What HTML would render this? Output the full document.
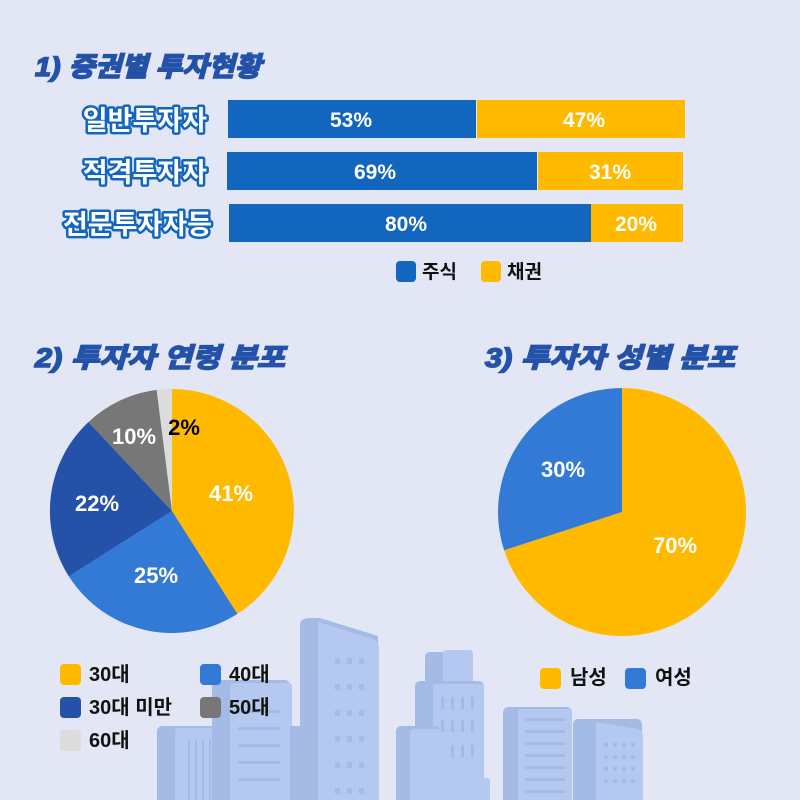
<!DOCTYPE html>
<html><head><meta charset="utf-8"><style>
html,body{margin:0;padding:0;background:#E3E7F5;}
svg{display:block}
text{font-family:"Liberation Sans","Noto Sans CJK KR",sans-serif;font-weight:bold}
</style></head><body>
<svg width="800" height="800" viewBox="0 0 800 800" xmlns="http://www.w3.org/2000/svg">
<rect width="800" height="800" fill="#E3E7F5"/>
<g>
<rect x="157" y="726" width="62" height="80" rx="5" fill="#A3BBE5"/>
<rect x="175" y="728" width="46" height="80" rx="3" fill="#B5C9F0"/>
<rect x="212" y="680" width="78" height="130" rx="5" fill="#A3BBE5"/>
<rect x="230" y="683" width="62" height="130" rx="3" fill="#B5C9F0"/>
<path d="M300 625 Q300 618 310 618 L320 618 L378 636 L378 800 L300 800Z" fill="#A3BBE5"/>
<path d="M318 622 L375 640 Q379 642 379 648 L379 800 L318 800Z" fill="#B5C9F0"/>
<rect x="290" y="726" width="14" height="80" fill="#A3BBE5"/>
<rect x="425" y="652" width="48" height="40" rx="5" fill="#A3BBE5"/>
<rect x="443" y="650" width="30" height="40" rx="3" fill="#B5C9F0"/>
<rect x="415" y="681" width="69" height="120" rx="5" fill="#A3BBE5"/>
<rect x="433" y="684" width="51" height="120" rx="3" fill="#B5C9F0"/>
<rect x="396" y="726" width="44" height="80" rx="5" fill="#A3BBE5"/>
<rect x="410" y="729" width="30" height="80" rx="3" fill="#B5C9F0"/>
<rect x="440" y="778" width="50" height="30" rx="3" fill="#B5C9F0"/>
<rect x="503" y="707" width="69" height="100" rx="5" fill="#A3BBE5"/>
<rect x="518" y="709" width="54" height="100" rx="3" fill="#B5C9F0"/>
<rect x="573" y="719" width="69" height="90" rx="5" fill="#A3BBE5"/>
<path d="M596 722 L638 729 Q643 731 643 736 L643 800 L596 800Z" fill="#B5C9F0"/>
<g fill="#A3BBE5">
<rect x="188" y="740" width="2" height="60"/><rect x="195" y="740" width="2" height="60"/><rect x="202" y="740" width="2" height="60"/><rect x="209" y="740" width="2" height="60"/>
<rect x="238" y="710" width="42" height="3"/><rect x="238" y="727" width="42" height="3"/><rect x="238" y="744" width="42" height="3"/><rect x="238" y="761" width="42" height="3"/><rect x="238" y="778" width="42" height="3"/>
<rect x="525" y="718" width="40" height="3"/><rect x="525" y="730" width="40" height="3"/><rect x="525" y="742" width="40" height="3"/><rect x="525" y="754" width="40" height="3"/><rect x="525" y="766" width="40" height="3"/><rect x="525" y="778" width="40" height="3"/><rect x="525" y="790" width="40" height="3"/>
</g>
<g fill="#A3BBE5">
<rect x="335" y="658" width="5" height="6"/><rect x="347" y="658" width="5" height="6"/><rect x="359" y="658" width="5" height="6"/>
<rect x="335" y="684" width="5" height="6"/><rect x="347" y="684" width="5" height="6"/><rect x="359" y="684" width="5" height="6"/>
<rect x="335" y="710" width="5" height="6"/><rect x="347" y="710" width="5" height="6"/><rect x="359" y="710" width="5" height="6"/>
<rect x="335" y="736" width="5" height="6"/><rect x="347" y="736" width="5" height="6"/><rect x="359" y="736" width="5" height="6"/>
<rect x="335" y="762" width="5" height="6"/><rect x="347" y="762" width="5" height="6"/><rect x="359" y="762" width="5" height="6"/>
<rect x="335" y="788" width="5" height="6"/><rect x="347" y="788" width="5" height="6"/><rect x="359" y="788" width="5" height="6"/>
<rect x="441" y="697" width="3" height="12"/><rect x="451" y="697" width="3" height="12"/><rect x="461" y="697" width="3" height="12"/><rect x="471" y="697" width="3" height="12"/>
<rect x="441" y="720" width="3" height="12"/><rect x="451" y="720" width="3" height="12"/><rect x="461" y="720" width="3" height="12"/><rect x="471" y="720" width="3" height="12"/>
<rect x="451" y="745" width="3" height="12"/><rect x="461" y="745" width="3" height="12"/><rect x="471" y="745" width="3" height="12"/>
<rect x="604" y="743" width="4" height="4"/><rect x="613" y="743" width="4" height="4"/><rect x="622" y="743" width="4" height="4"/><rect x="631" y="743" width="4" height="4"/>
<rect x="604" y="755" width="4" height="4"/><rect x="613" y="755" width="4" height="4"/><rect x="622" y="755" width="4" height="4"/><rect x="631" y="755" width="4" height="4"/>
<rect x="604" y="767" width="4" height="4"/><rect x="613" y="767" width="4" height="4"/><rect x="622" y="767" width="4" height="4"/><rect x="631" y="767" width="4" height="4"/>
<rect x="604" y="779" width="4" height="4"/><rect x="613" y="779" width="4" height="4"/><rect x="622" y="779" width="4" height="4"/><rect x="631" y="779" width="4" height="4"/>
</g>
</g>

<g fill="#2352A8" stroke="#2352A8" stroke-width="1.6" font-style="italic" font-size="27">
<text x="35" y="76" textLength="226" lengthAdjust="spacingAndGlyphs">1) 증권별 투자현황</text>
<text x="35" y="367" textLength="250" lengthAdjust="spacingAndGlyphs">2) 투자자 연령 분포</text>
<text x="485" y="367" textLength="250" lengthAdjust="spacingAndGlyphs">3) 투자자 성별 분포</text>
</g>

<g font-size="27" text-anchor="end" fill="#fff" stroke="#1266BE" stroke-width="5" paint-order="stroke" stroke-linejoin="round">
<text x="207" y="130">일반투자자</text>
<text x="207" y="182">적격투자자</text>
<text x="212" y="234">전문투자자등</text>
</g>
<rect x="228" y="100" width="248" height="38" fill="#1266BE"/>
<rect x="477" y="100" width="208" height="38" fill="#FFBA00"/>
<rect x="227" y="152" width="310" height="38" fill="#1266BE"/>
<rect x="538" y="152" width="145" height="38" fill="#FFBA00"/>
<rect x="229" y="204" width="362" height="38" fill="#1266BE"/>
<rect x="591" y="204" width="92" height="38" fill="#FFBA00"/>
<g font-size="21" fill="#fff" text-anchor="middle">
<text x="351" y="127">53%</text><text x="584" y="127">47%</text>
<text x="375" y="179">69%</text><text x="610" y="179">31%</text>
<text x="406" y="231">80%</text><text x="636" y="231">20%</text>
</g>
<rect x="396" y="261" width="20" height="21" rx="4" fill="#1266BE"/>
<text x="422" y="278" font-size="19" fill="#111">주식</text>
<rect x="481" y="261" width="20" height="21" rx="4" fill="#FFBA00"/>
<text x="507" y="278" font-size="19" fill="#111">채권</text>

<path d="M172 511 L172 389 A122 122 0 0 1 237.4 613.9 Z" fill="#FFBA00"/>
<path d="M172 511 L237.4 613.9 A122 122 0 0 1 68.9 576.4 Z" fill="#337AD6"/>
<path d="M172 511 L68.9 576.4 A122 122 0 0 1 88.5 422.0 Z" fill="#2352A8"/>
<path d="M172 511 L88.5 422.0 A122 122 0 0 1 156.7 389.9 Z" fill="#777777"/>
<path d="M172 511 L156.7 389.9 A122 122 0 0 1 172 389 Z" fill="#DCDCDC"/>
<g font-size="22" fill="#fff" text-anchor="middle">
<text x="231" y="501">41%</text>
<text x="156" y="583">25%</text>
<text x="97" y="511">22%</text>
<text x="134" y="444">10%</text>
<text x="184" y="435" fill="#000">2%</text>
</g>

<path d="M622 512 L622 388 A124 124 0 1 1 504.1 550.3 Z" fill="#FFBA00"/>
<path d="M622 512 L504.1 550.3 A124 124 0 0 1 622 388 Z" fill="#337AD6"/>
<g font-size="22" fill="#fff" text-anchor="middle">
<text x="675" y="553">70%</text>
<text x="563" y="477">30%</text>
</g>

<g font-size="20" fill="#111">
<rect x="60" y="664" width="21" height="21" rx="4" fill="#FFBA00"/><text x="89" y="681">30대</text>
<rect x="200" y="664" width="21" height="21" rx="4" fill="#337AD6"/><text x="229" y="681">40대</text>
<rect x="60" y="697" width="21" height="21" rx="4" fill="#2352A8"/><text x="89" y="714">30대 미만</text>
<rect x="200" y="697" width="21" height="21" rx="4" fill="#777777"/><text x="229" y="714">50대</text>
<rect x="60" y="730" width="21" height="21" rx="4" fill="#DCDCDC"/><text x="89" y="747">60대</text>
<rect x="540" y="668" width="21" height="21" rx="4" fill="#FFBA00"/><text x="570" y="684">남성</text>
<rect x="625" y="668" width="21" height="21" rx="4" fill="#337AD6"/><text x="655" y="684">여성</text>
</g>
</svg>
</body></html>
